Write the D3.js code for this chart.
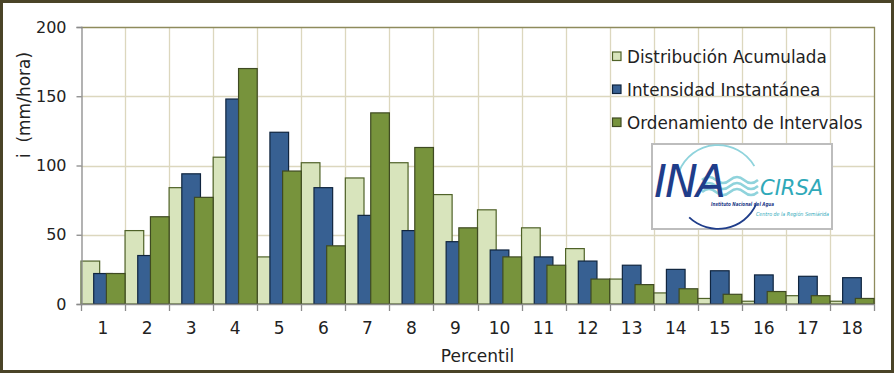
<!DOCTYPE html>
<html>
<head>
<meta charset="utf-8">
<script src="https://cdn.jsdelivr.net/npm/d3@7/dist/d3.min.js"></script>
<style>
  body { margin: 0; background: #fff; }
  svg text { font-family: "DejaVu Sans", sans-serif; fill: #222; }
</style>
</head>
<body>
<div id="chart"></div>
<script>
// data
var percentiles = ["1","2","3","4","5","6","7","8","9","10","11","12","13","14","15","16","17","18"];
var seriesNames = ["Distribución Acumulada", "Intensidad Instantánea", "Ordenamiento de Intervalos"];
var acumulada = [31, 53, 84, 106, 34, 102, 91, 102, 79, 68, 55, 40, 18, 8, 4, 2, 6, 2];
var instantanea = [22, 35, 94, 148, 124, 84, 64, 53, 45, 39, 34, 31, 28, 25, 24, 21, 20, 19];
var ordenamiento = [22, 63, 77, 170, 96, 42, 138, 113, 55, 34, 28, 18, 14, 11, 7, 9, 6, 4];
var yTicks = [0, 50, 100, 150, 200];

var fills = ["#d8e4bc", "#376092", "#77933c"];
var strokes = ["#4f6228", "#10253f", "#3f4a22"];

var W = 894, H = 373;
var margin = { top: 27, right: 20, bottom: 69, left: 81 };

var svg = d3.select("#chart").append("svg")
    .attr("width", W)
    .attr("height", H);

// outer frame
svg.append("rect")
    .attr("x", 1.5).attr("y", 1.5)
    .attr("width", W - 3).attr("height", H - 3)
    .attr("fill", "#fff")
    .attr("stroke", "#4a4428")
    .attr("stroke-width", 3);

var x = d3.scaleBand()
    .domain(percentiles)
    .range([margin.left, W - margin.right])
    .paddingInner(0).paddingOuter(0);

var y = d3.scaleLinear()
    .domain([0, 200])
    .range([H - margin.bottom, margin.top]);

// gridlines
var grid = svg.append("g");
grid.selectAll(".hg").data(yTicks.filter(function(d){ return d > 0 && d < 200; }))
  .enter().append("line")
    .attr("x1", margin.left).attr("x2", W - margin.right)
    .attr("y1", function(d){ return Math.round(y(d)) + 0.5; })
    .attr("y2", function(d){ return Math.round(y(d)) + 0.5; })
    .attr("stroke", "#dcd7be").attr("stroke-width", 1.3);
grid.selectAll(".vg").data(percentiles.slice(1))
  .enter().append("line")
    .attr("x1", function(d){ return Math.round(x(d)) + 0.5; })
    .attr("x2", function(d){ return Math.round(x(d)) + 0.5; })
    .attr("y1", margin.top).attr("y2", y(0))
    .attr("stroke", "#dcd7be").attr("stroke-width", 1.3);

// plot border top/right
svg.append("path")
    .attr("d", "M" + margin.left + "," + (margin.top + 0.5) + "H" + (W - margin.right + 0.5) + "V" + y(0))
    .attr("fill", "none")
    .attr("stroke", "#8e8b5c")
    .attr("stroke-width", 1.3);

// bars
var bw = x.bandwidth();
var step = 0.68;
var barW = bw / (1 + 2 * step);
var allSeries = [acumulada, instantanea, ordenamiento];

allSeries.forEach(function(vals, si){
    svg.append("g").selectAll("rect")
        .data(vals)
      .enter().append("rect")
        .attr("x", function(d, i){ return x(percentiles[i]) + si * step * barW; })
        .attr("y", function(d){ return y(d); })
        .attr("width", barW)
        .attr("height", function(d){ return y(0) - y(d); })
        .attr("fill", fills[si])
        .attr("stroke", strokes[si])
        .attr("stroke-width", 1.2);
});

// y axis
var yAxis = d3.axisLeft(y).tickValues(yTicks).tickSize(5).tickPadding(10);
var gy = svg.append("g")
    .attr("transform", "translate(" + (margin.left + 0.5) + ",0)")
    .call(yAxis);
gy.select(".domain").attr("stroke", "#8a8a8a").attr("stroke-width", 1.3);
gy.selectAll(".tick line").attr("stroke", "#8a8a8a").attr("stroke-width", 1.3);
gy.selectAll(".tick text").attr("font-size", 16).attr("font-family", "DejaVu Sans").attr("fill", "#222");

// x axis
var xTickPos = d3.range(percentiles.length + 1).map(function(i){ return margin.left + i * bw; });
var gx = svg.append("g");
gx.append("line")
    .attr("x1", margin.left).attr("x2", W - margin.right)
    .attr("y1", y(0) + 0.5).attr("y2", y(0) + 0.5)
    .attr("stroke", "#8a8a8a").attr("stroke-width", 1.5);
gx.selectAll(".xt").data(xTickPos).enter().append("line")
    .attr("x1", function(d){ return Math.round(d) + 0.5; })
    .attr("x2", function(d){ return Math.round(d) + 0.5; })
    .attr("y1", y(0)).attr("y2", y(0) + 7)
    .attr("stroke", "#8a8a8a").attr("stroke-width", 1.3);
gx.selectAll(".xl").data(percentiles).enter().append("text")
    .attr("x", function(d){ return x(d) + bw / 2; })
    .attr("y", 334)
    .attr("text-anchor", "middle")
    .attr("font-size", 17)
    .text(function(d){ return d; });

// axis titles
svg.append("text")
    .attr("x", (margin.left + W - margin.right) / 2)
    .attr("y", 362)
    .attr("text-anchor", "middle")
    .attr("font-size", 17)
    .text("Percentil");

svg.append("text")
    .attr("transform", "translate(30,105) rotate(-90)")
    .attr("text-anchor", "middle")
    .attr("font-size", 17)
    .attr("xml:space", "preserve")
    .text("i  (mm/hora)");

// legend
var legend = svg.append("g");
var legY = [56.5, 89.5, 122.5];
seriesNames.forEach(function(name, i){
    legend.append("rect")
        .attr("x", 612.5).attr("y", legY[i] - 4.5)
        .attr("width", 8.5).attr("height", 8.5)
        .attr("fill", fills[i])
        .attr("stroke", strokes[i])
        .attr("stroke-width", 1.2);
    legend.append("text")
        .attr("x", 627)
        .attr("y", legY[i] + 6)
        .attr("font-size", 16.8)
        .text(name);
});

// INA CIRSA logo
var logo = svg.append("g");
logo.append("rect")
    .attr("x", 652).attr("y", 144)
    .attr("width", 180).attr("height", 85)
    .attr("fill", "#fff")
    .attr("stroke", "#bdbdbd")
    .attr("stroke-width", 2);
// arcs
var arcCx = 718, arcCy = 187, arcR = 41;
logo.append("path")
    .attr("d", d3.arc()({ innerRadius: arcR, outerRadius: arcR + 1.8, startAngle: -1.2, endAngle: 1.05 }))
    .attr("transform", "translate(" + arcCx + "," + arcCy + ")")
    .attr("fill", "#8fd3dc");
logo.append("path")
    .attr("d", d3.arc()({ innerRadius: arcR, outerRadius: arcR + 1.8, startAngle: 2.0, endAngle: 3.9 }))
    .attr("transform", "translate(" + arcCx + "," + arcCy + ")")
    .attr("fill", "#1f3d8a");
// waves
[0, 6, 12].forEach(function(dy){
    logo.append("path")
        .attr("d", "M702," + (180 + dy) + " q7,-6 14,0 t14,0 t14,0 t14,0")
        .attr("fill", "none")
        .attr("stroke", "#8fd3dc")
        .attr("stroke-width", 2.6);
});
logo.append("text")
    .attr("x", 654).attr("y", 197)
    .attr("font-family", "Liberation Serif")
    .attr("font-style", "italic")
    .attr("font-size", 44)
    .attr("letter-spacing", -2)
    .style("fill", "#1f3d8a")
    .text("INA");
logo.append("text")
    .attr("x", 760).attr("y", 195)
    .attr("font-family", "Liberation Sans Narrow, Liberation Sans")
    .attr("font-style", "italic")
    .attr("font-size", 21)
    .style("fill", "#2fa9b9")
    .text("CIRSA");
logo.append("text")
    .attr("x", 711).attr("y", 206)
    .attr("font-family", "Liberation Serif")
    .attr("font-style", "italic")
    .attr("font-weight", "bold")
    .attr("font-size", 5.5)
    .attr("textLength", 63)
    .attr("lengthAdjust", "spacingAndGlyphs")
    .style("fill", "#1f3d8a")
    .text("Instituto Nacional del Agua");
logo.append("text")
    .attr("x", 756).attr("y", 216)
    .attr("font-family", "Liberation Serif")
    .attr("font-style", "italic")
    .attr("font-size", 5.5)
    .attr("textLength", 73)
    .attr("lengthAdjust", "spacingAndGlyphs")
    .style("fill", "#2fa9b9")
    .text("Centro de la Región Semiárida");
</script>
</body>
</html>
